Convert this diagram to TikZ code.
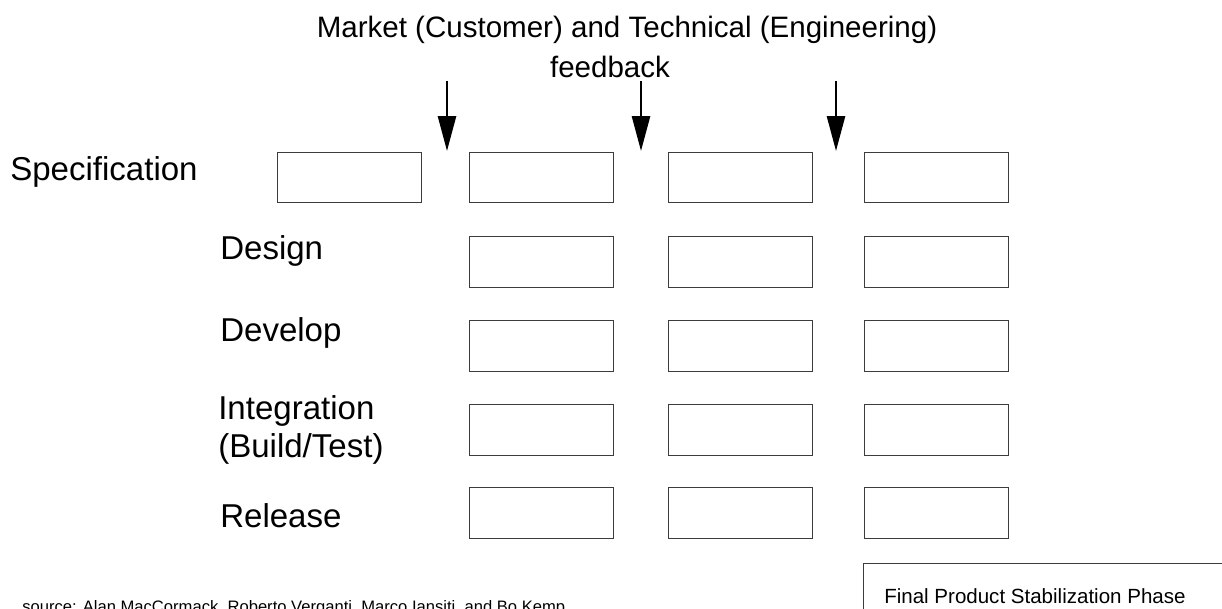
\documentclass[tikz,border=0pt]{standalone}
\usepackage{fontspec}
\setmainfont{Liberation Sans}
\usepackage{tikz}
\usetikzlibrary{arrows.meta}
\definecolor{box_gray}{RGB}{60,60,60}

\begin{document}
\begin{tikzpicture}[x=0.025cm,y=-0.025cm,>={Triangle[length=0.87cm,width=0.45cm]}]
    \tikzstyle{phase}=[draw=box_gray, line width=0.6pt, rectangle, minimum width=3.6cm, minimum height=1.27cm, inner sep=0pt, fill=none]
    \tikzstyle{lbl}=[anchor=west, inner sep=0pt, font=\fontsize{23.5}{27}\selectfont]
    \tikzstyle{head}=[anchor=base, inner sep=0pt, font=\fontsize{21}{28.5}\selectfont]
    \tikzstyle{fb}=[->, line width=1.7pt, black]

    \useasboundingbox (0,0) rectangle (1222,609);

    % title
    \node[head] (title) at (627,38) {Market (Customer) and Technical (Engineering)};
    \node[head] (title2) at (610,78) {feedback};

    % row labels
    \node[lbl] (spec) at (10,172)  {Specification};
    \node[lbl] (des)  at (220,251) {Design};
    \node[lbl] (dev)  at (220,333) {Develop};
    \node[lbl, align=left] (int) at (218,430) {Integration\\(Build/Test)};
    \node[lbl] (rel)  at (220,516) {Release};

    % phase boxes
    \node[phase] (s0) at (349.5,177.5) {};
    \foreach \c/\x in {1/541.5,2/740,3/936}{
      \node[phase] (s\c) at (\x,177.5) {};
      \node[phase] (d\c) at (\x,262)   {};
      \node[phase] (v\c) at (\x,346)   {};
      \node[phase] (i\c) at (\x,430)   {};
      \node[phase] (r\c) at (\x,513)   {};
    }

    % feedback arrows
    \coordinate (a1) at (447,81);  \coordinate (t1) at (447,151);
    \coordinate (a2) at (641,81);  \coordinate (t2) at (641,151);
    \coordinate (a3) at (836,81);  \coordinate (t3) at (836,151);
    \path
     (a1) edge[fb] (t1)
     (a2) edge[fb] (t2)
     (a3) edge[fb] (t3)
     ;

    % stabilization phase
    \draw[box_gray, line width=0.6pt] (1240,563) -- (863,563) -- (863,640);
    \node[anchor=base west, inner sep=0pt, font=\fontsize{14.6}{17}\selectfont] (final) at (884,603)
      {Final Product Stabilization Phase};

    % source
    \node[anchor=base west, inner sep=0pt, font=\fontsize{11.8}{14}\selectfont] (src) at (22,612)
      {source: Alan MacCormack, Roberto Verganti, Marco Iansiti, and Bo Kemp};
\end{tikzpicture}
\end{document}
